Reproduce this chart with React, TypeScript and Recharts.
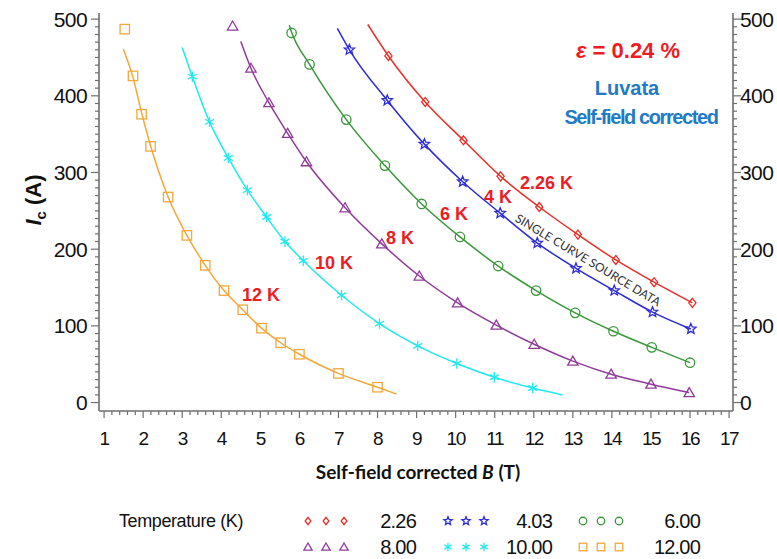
import { ComposedChart, XAxis, YAxis, Line, Scatter } from "recharts";

// axis labels
const xTickLabels = [1, 2, 3, 4, 5, 6, 7, 8, 9, 10, 11, 12, 13, 14, 15, 16, 17];
const yTickLabels = [0, 100, 200, 300, 400, 500];

// measured Ic (A) vs self-field corrected B (T)
const b226 = [8.28, 9.22, 10.2, 11.15, 12.14, 13.13, 14.1, 15.08, 16.06];
const ic226 = [452, 392, 342, 295, 255, 219, 186, 157, 130];
const b403 = [7.28, 8.25, 9.2, 10.18, 11.14, 12.09, 13.08, 14.06, 15.04, 16.02];
const ic403 = [460, 394, 337, 288, 247, 208, 175, 146, 118, 96];
const b600 = [5.8, 6.26, 7.2, 8.19, 9.13, 10.11, 11.09, 12.06, 13.06, 14.04, 15.02, 16.0];
const ic600 = [482, 441, 369, 309, 259, 216, 178, 146, 117, 93, 72, 52];
const b800 = [4.29, 4.76, 5.22, 5.7, 6.18, 7.17, 8.11, 9.07, 10.05, 11.04, 12.01, 13.0, 13.98, 15.0, 15.98];
const ic800 = [491, 436, 391, 351, 314, 254, 207, 165, 130, 101, 76, 54, 37, 24, 13];
const b1000 = [3.26, 3.7, 4.18, 4.67, 5.16, 5.63, 6.1, 7.08, 8.05, 9.03, 10.03, 10.99, 11.97];
const ic1000 = [425, 366, 319, 277, 242, 210, 185, 140, 103, 74, 51, 33, 19];
const b1200 = [1.53, 1.74, 1.96, 2.19, 2.64, 3.12, 3.59, 4.07, 4.55, 5.03, 5.52, 6.0, 7.0, 8.0];
const ic1200 = [487, 426, 376, 334, 268, 218, 179, 146, 121, 97, 78, 63, 38, 20];

// fitted scaling curves
const fitB226 = [7.75, 8.28, 9.22, 10.2, 11.15, 12.14, 13.13, 14.1, 15.08, 16.06];
const fitIc226 = [493, 452, 392, 342, 295, 255, 219, 186, 157, 130];
const fitB403 = [6.97, 7.28, 8.25, 9.2, 10.18, 11.14, 12.09, 13.08, 14.06, 15.04, 16.02];
const fitIc403 = [488, 460, 394, 337, 288, 247, 208, 175, 146, 118, 96];
const fitB600 = [5.74, 5.8, 6.26, 7.2, 8.19, 9.13, 10.11, 11.09, 12.06, 13.06, 14.04, 15.02, 16.0];
const fitIc600 = [492, 483, 441, 369, 309, 259, 216, 178, 146, 117, 93, 72, 52];
const fitB800 = [4.5, 4.76, 5.22, 5.7, 6.18, 7.17, 8.11, 9.07, 10.05, 11.04, 12.01, 13.0, 13.98, 15.0, 15.98];
const fitIc800 = [471, 436, 391, 351, 314, 254, 207, 165, 130, 101, 76, 54, 37, 24, 13];
const fitB1000 = [3.0, 3.26, 3.7, 4.18, 4.67, 5.16, 5.63, 6.1, 7.08, 8.05, 9.03, 10.03, 10.99, 11.97, 12.74];
const fitIc1000 = [463, 425, 366, 319, 277, 242, 210, 185, 140, 103, 74, 51, 33, 19, 10];
const fitB1200 = [1.49, 1.74, 1.96, 2.19, 2.64, 3.12, 3.59, 4.07, 4.55, 5.03, 5.52, 6.0, 7.0, 8.0, 8.49];
const fitIc1200 = [461, 424, 378, 335, 268, 218, 179, 146, 121, 97, 78, 63, 38, 20, 11];

const zip = (xs: number[], ys: number[]) => xs.map((x, i) => ({ x, y: ys[i] }));

type Kind = "diamond" | "star" | "circle" | "triangle" | "asterisk" | "square";

const series = [
  { name: "2.26", color: "#e8302a", kind: "diamond" as Kind, pts: zip(b226, ic226), fit: zip(fitB226, fitIc226) },
  { name: "4.03", color: "#2b2bd9", kind: "star" as Kind, pts: zip(b403, ic403), fit: zip(fitB403, fitIc403) },
  { name: "6.00", color: "#3a973a", kind: "circle" as Kind, pts: zip(b600, ic600), fit: zip(fitB600, fitIc600) },
  { name: "8.00", color: "#8f3c99", kind: "triangle" as Kind, pts: zip(b800, ic800), fit: zip(fitB800, fitIc800) },
  { name: "10.00", color: "#22e8f0", kind: "asterisk" as Kind, pts: zip(b1000, ic1000), fit: zip(fitB1000, fitIc1000) },
  { name: "12.00", color: "#f2a83a", kind: "square" as Kind, pts: zip(b1200, ic1200), fit: zip(fitB1200, fitIc1200) },
];

const AXIS = "#6e6e6e";
const SANS = "'Liberation Sans', Arial, sans-serif";
const CALI = "Lato, 'Open Sans', sans-serif";
const LABEL_RED = "#ee1c24";

const xMinor = Array.from({ length: 81 }, (_, i) => Math.round((1 + i * 0.2) * 10) / 10);
const yMinor = Array.from({ length: 51 }, (_, i) => i * 10);

function Marker({ cx, cy, kind, color, s = 1 }: { cx: number; cy: number; kind: Kind; color: string; s?: number }) {
  const common = { fill: "none", stroke: color, strokeWidth: 1.3 };
  switch (kind) {
    case "diamond":
      return <path d={`M${cx},${cy - 4.5 * s}L${cx + 3.6 * s},${cy}L${cx},${cy + 4.5 * s}L${cx - 3.6 * s},${cy}Z`} {...common} />;
    case "circle":
      return <circle cx={cx} cy={cy} r={4.7 * s} {...common} />;
    case "square":
      return <rect x={cx - 4.7 * s} y={cy - 4.7 * s} width={9.4 * s} height={9.4 * s} {...common} />;
    case "triangle":
      return <path d={`M${cx},${cy - 5 * s}L${cx + 5.2 * s},${cy + 4 * s}L${cx - 5.2 * s},${cy + 4 * s}Z`} {...common} />;
    case "star": {
      const pts: string[] = [];
      for (let i = 0; i < 10; i++) {
        const r = (i % 2 === 0 ? 5.4 : 2.4) * s;
        const a = -Math.PI / 2 + (i * Math.PI) / 5;
        pts.push(`${cx + r * Math.cos(a)},${cy + r * Math.sin(a)}`);
      }
      return <polygon points={pts.join(" ")} {...common} />;
    }
    case "asterisk": {
      const r = 5.2 * s;
      return (
        <g stroke={color} strokeWidth={1.3}>
          <line x1={cx} y1={cy - r} x2={cx} y2={cy + r} />
          <line x1={cx - r * 0.87} y1={cy - r / 2} x2={cx + r * 0.87} y2={cy + r / 2} />
          <line x1={cx - r * 0.87} y1={cy + r / 2} x2={cx + r * 0.87} y2={cy - r / 2} />
        </g>
      );
    }
  }
  return null;
}

function XTick(props: any) {
  const { x, y, payload } = props;
  const major = xTickLabels.includes(payload.value);
  return (
    <g>
      <line x1={x} x2={x} y1={y} y2={y + (major ? 7 : 4)} stroke={AXIS} strokeWidth={1.2} />
      {major && (
        <text x={x} y={y + 27} dy="0.36em" textAnchor="middle" fontFamily={SANS} fontSize={19} letterSpacing={-1.5} fill="#111">
          {payload.value}
        </text>
      )}
    </g>
  );
}

function YTick(props: any) {
  const { x, y, payload, side } = props;
  const major = yTickLabels.includes(payload.value);
  const dir = side === "right" ? 1 : -1;
  return (
    <g>
      <line x1={x} x2={x + dir * (major ? 8 : 4)} y1={y} y2={y} stroke={AXIS} strokeWidth={1.2} />
      {major && (
        <text
          x={x + dir * (side === "right" ? 7 : 12)}
          y={y}
          dy="0.36em"
          textAnchor={side === "right" ? "start" : "end"}
          fontFamily={SANS}
          fontSize={21}
          letterSpacing={-0.6}
          fill="#111"
        >
          {payload.value}
        </text>
      )}
    </g>
  );
}

const legendCols = [
  { marks: [308, 326, 344], textEnd: 416 },
  { marks: [448, 466, 484], textEnd: 552 },
  { marks: [583, 601, 619], textEnd: 700 },
];
const legendRows = [521, 547];

const curveLabels = [
  { text: "2.26 K", x: 520, y: 183 },
  { text: "4 K", x: 484, y: 197 },
  { text: "6 K", x: 440, y: 214 },
  { text: "8 K", x: 386, y: 238 },
  { text: "10 K", x: 315, y: 263 },
  { text: "12 K", x: 242, y: 295 },
];

export default function App() {
  const domX: [number, number] = [0.87, 17.1];
  const domY: [number, number] = [-11, 508];
  return (
    <div style={{ position: "absolute", left: 0, top: 0, background: "#fff" }}>
      <ComposedChart width={777} height={559} margin={{ top: 13, right: 0, bottom: 0, left: 0 }}>
        <XAxis
          xAxisId="b"
          dataKey="x"
          type="number"
          domain={domX}
          allowDataOverflow
          ticks={xMinor}
          interval={0}
          height={148}
          tickSize={0}
          tickMargin={0}
          tick={<XTick />}
          tickLine={false}
          axisLine={{ stroke: AXIS, strokeWidth: 1.6 }}
        />
        <XAxis
          xAxisId="t"
          orientation="top"
          dataKey="x"
          type="number"
          domain={domX}
          allowDataOverflow
          height={0}
          tick={false}
          tickLine={false}
          axisLine={{ stroke: AXIS, strokeWidth: 1.6 }}
        />
        <YAxis
          yAxisId="l"
          dataKey="y"
          type="number"
          domain={domY}
          allowDataOverflow
          ticks={yMinor}
          interval={0}
          width={99}
          tickSize={0}
          tickMargin={0}
          tick={<YTick side="left" />}
          tickLine={false}
          axisLine={{ stroke: AXIS, strokeWidth: 1.6 }}
        />
        <YAxis
          yAxisId="r"
          orientation="right"
          dataKey="y"
          type="number"
          domain={domY}
          allowDataOverflow
          ticks={yMinor}
          interval={0}
          width={44}
          tickSize={0}
          tickMargin={0}
          tick={<YTick side="right" />}
          tickLine={false}
          axisLine={{ stroke: AXIS, strokeWidth: 1.6 }}
        />
        {series.map((s) => (
          <Line
            key={`fit-${s.name}`}
            xAxisId="b"
            yAxisId="l"
            data={s.fit}
            dataKey="y"
            type="monotone"
            stroke={s.color}
            strokeWidth={1.5}
            dot={false}
            activeDot={false}
            isAnimationActive={false}
          />
        ))}
        {series.map((s) => (
          <Scatter
            key={`pts-${s.name}`}
            xAxisId="b"
            yAxisId="l"
            data={s.pts}
            dataKey="y"
            isAnimationActive={false}
            shape={(p: any) => <Marker cx={p.cx} cy={p.cy} kind={s.kind} color={s.color} />}
          />
        ))}
        {/* empty series so the top and right frame axes get drawn */}
        <Scatter xAxisId="t" yAxisId="r" data={[]} dataKey="y" isAnimationActive={false} />

        {/* annotations */}
        <g fontFamily={SANS} fontWeight="bold">
          {curveLabels.map((c) => (
            <text key={c.text} x={c.x} y={c.y} dy="0.36em" fontSize={18} fill={LABEL_RED}>
              {c.text}
            </text>
          ))}
          <text x={628} y={50} dy="0.36em" textAnchor="middle" fontSize={22} fill={LABEL_RED}>
            <tspan fontStyle="italic">ε</tspan> = 0.24 %
          </text>
          <text x={627} y={88} dy="0.36em" textAnchor="middle" fontSize={20} fill="#1f7bc8">
            Luvata
          </text>
          <text x={641} y={117} dy="0.36em" textAnchor="middle" fontSize={20} letterSpacing={-1.4} fill="#1f7bc8">
            Self-field corrected
          </text>
        </g>
        <text
          x={588}
          y={260}
          dy="0.36em"
          textAnchor="middle"
          fontFamily={CALI}
          fontSize={12}
          fill="#333"
          transform="rotate(31 588 260)"
        >
          SINGLE CURVE SOURCE DATA
        </text>

        {/* axis titles */}
        <text x={33} y={200} dy="0.36em" textAnchor="middle" fontFamily={SANS} fontWeight="bold" fontSize={22} fill="#111" transform="rotate(-90 33 200)">
          <tspan fontStyle="italic">I</tspan>
          <tspan fontSize={15} dy={5}>c</tspan>
          <tspan dy={-5}> (A)</tspan>
        </text>
        <text x={418} y={472} dy="0.36em" textAnchor="middle" fontFamily={CALI} fontWeight="bold" fontSize={19} fill="#111">
          Self-field corrected <tspan fontStyle="italic">B</tspan> (T)
        </text>

        {/* legend */}
        <text x={119} y={legendRows[0]} dy="0.36em" fontFamily={SANS} fontSize={18} letterSpacing={-0.4} fill="#111">
          Temperature  (K)
        </text>
        {series.map((s, i) => {
          const col = legendCols[i % 3];
          const row = legendRows[Math.floor(i / 3)];
          return (
            <g key={`leg-${s.name}`}>
              {col.marks.map((mx) => (
                <Marker key={mx} cx={mx} cy={row} kind={s.kind} color={s.color} s={0.8} />
              ))}
              <text x={col.textEnd} y={row} dy="0.36em" textAnchor="end" fontFamily={SANS} fontSize={20} letterSpacing={-0.8} fill="#111">
                {s.name}
              </text>
            </g>
          );
        })}
      </ComposedChart>
    </div>
  );
}
